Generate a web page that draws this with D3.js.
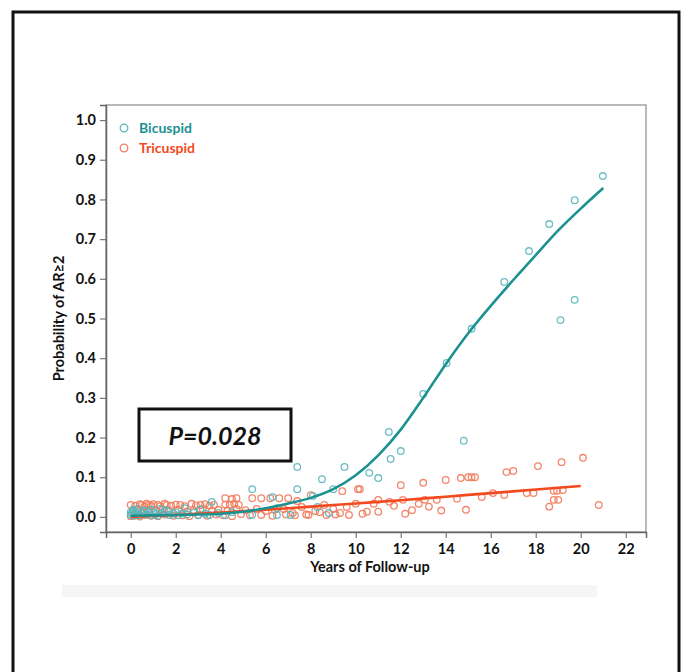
<!DOCTYPE html>
<html>
<head>
<meta charset="utf-8">
<script src="https://cdn.jsdelivr.net/npm/d3@7"></script>
<style>
  body { margin: 0; background: #fff; }
  text { font-family: Lato, "Open Sans", sans-serif; }
</style>
</head>
<body>
<script>
// fitted curves
var bicuspidCurveX = [0, 1, 2, 3, 4, 5, 6, 7, 8, 9, 10, 11, 12, 13, 14, 15, 16, 17, 18, 19, 20, 21];
var bicuspidCurveY = [0.003, 0.004, 0.005, 0.006, 0.008, 0.013, 0.022, 0.034, 0.048, 0.07, 0.105, 0.155, 0.22, 0.3, 0.385, 0.463, 0.532, 0.597, 0.66, 0.722, 0.777, 0.829];
var tricuspidCurveX = [0, 2, 4, 6, 8, 10, 12, 14, 16, 18, 20];
var tricuspidCurveY = [0, 0.005, 0.011, 0.018, 0.026, 0.034, 0.042, 0.051, 0.06, 0.069, 0.078];

// observed points: bicuspid
var bicuspidX = [0, 0, 0.05, 0.1, 0.15, 0.2, 0.25, 0.3, 0.4, 0.5, 0.6, 0.7, 0.8, 0.9, 1.0, 1.1, 1.2, 1.4, 1.5, 1.7, 1.9, 2.0, 2.1, 2.3, 2.5, 2.8, 3.0, 3.1, 3.3, 3.5, 3.6, 3.9, 4.2, 4.5,
  0.1, 0.3, 0.6, 0.9, 1.3, 1.6, 2.4, 5.4, 5.4, 6.3, 6.5, 6.5, 7.1, 7.4, 7.4, 8.1, 8.3, 8.5, 8.8, 9.0, 9.5,
  10.6, 11.0, 11.47, 11.55, 12.0, 13.0, 14.04, 14.8, 15.15, 16.6, 17.7, 18.6, 19.1, 19.73, 19.73, 20.98];
var bicuspidY = [0.005, 0.012, 0.008, 0.015, 0.003, 0.01, 0.006, 0.012, 0.004, 0.009, 0.014, 0.006, 0.01, 0.004, 0.012, 0.007, 0.003, 0.01, 0.015, 0.005, 0.008, 0.012, 0.004, 0.009, 0.006, 0.011, 0.004, 0.018, 0.008, 0.005, 0.038, 0.01, 0.004, 0.012,
  0.018, 0.02, 0.016, 0.018, 0.02, 0.017, 0.022, 0.07, 0.005, 0.05, 0.022, 0.005, 0.005, 0.126, 0.07, 0.053, 0.025, 0.095, 0.01, 0.07, 0.126,
  0.111, 0.098, 0.214, 0.146, 0.166, 0.31, 0.388, 0.192, 0.474, 0.592, 0.67, 0.738, 0.496, 0.798, 0.547, 0.859];

// observed points: tricuspid
var tricuspidX = [0.0, 0.2, 0.4, 0.5, 0.6, 0.7, 0.8, 0.9, 1.0, 1.2, 1.3, 1.5, 1.6, 1.8, 2.0, 2.2, 2.4, 2.7, 2.9, 3.1, 3.3, 3.5, 3.7, 4.2, 4.4, 4.6, 4.8,
  0.1, 0.3, 0.5, 0.8, 1.1, 1.4, 1.7, 2.1, 2.5, 2.8, 3.2, 3.6, 3.9, 4.3, 4.7, 5.1, 5.6, 6.0, 6.4, 6.8, 7.2, 7.6, 8.2, 8.6, 9.0, 9.3, 9.6,
  0.0, 0.2, 0.4, 0.6, 0.9, 1.2, 1.5, 1.9, 2.3, 2.6, 3.0, 3.4, 3.8, 4.1, 4.5, 4.9, 5.3, 5.8, 6.3, 6.9, 7.3, 7.9, 8.7, 9.1,
  4.2, 4.5, 4.7, 5.4, 5.8, 6.2, 6.6, 7.0, 7.4, 7.8, 8.0, 8.4, 9.4, 10.1,
  9.7, 10.0, 10.18, 10.3, 10.5, 10.8, 11.0, 11.0, 11.5, 11.7, 12.0, 12.1, 12.2, 12.5, 12.8, 13.0, 13.07, 13.25, 13.6, 13.8, 14.0, 14.5, 14.67, 14.9,
  15.0, 15.15, 15.3, 15.6, 16.1, 16.6, 16.7, 17.0, 17.6, 17.9, 18.1, 18.6, 18.8, 18.8, 18.95, 19.0, 19.2, 19.15, 20.1, 20.8];
var tricuspidY = [0.03, 0.028, 0.032, 0.03, 0.026, 0.033, 0.03, 0.028, 0.032, 0.03, 0.027, 0.033, 0.03, 0.028, 0.031, 0.03, 0.027, 0.033, 0.029, 0.03, 0.032, 0.028, 0.03, 0.031, 0.03, 0.033, 0.03,
  0.015, 0.018, 0.014, 0.017, 0.015, 0.019, 0.016, 0.018, 0.014, 0.017, 0.02, 0.015, 0.018, 0.016, 0.02, 0.017, 0.02, 0.015, 0.018, 0.02, 0.01, 0.025, 0.015, 0.03, 0.02, 0.01, 0.025,
  0.002, 0.004, 0.001, 0.005, 0.003, 0.002, 0.006, 0.003, 0.004, 0.002, 0.005, 0.003, 0.006, 0.004, 0.002, 0.007, 0.004, 0.005, 0.003, 0.006, 0.004, 0.005, 0.005, 0.006,
  0.047, 0.045, 0.047, 0.047, 0.047, 0.047, 0.047, 0.047, 0.04, 0.006, 0.055, 0.012, 0.065, 0.07,
  0.005, 0.033, 0.07, 0.008, 0.013, 0.033, 0.043, 0.013, 0.038, 0.028, 0.08, 0.043, 0.008, 0.017, 0.033, 0.086, 0.043, 0.026, 0.043, 0.016, 0.093, 0.046, 0.098, 0.018,
  0.1, 0.1, 0.1, 0.05, 0.06, 0.055, 0.113, 0.116, 0.06, 0.06, 0.128, 0.026, 0.043, 0.066, 0.066, 0.043, 0.068, 0.138, 0.149, 0.03];

var xTicks = [0, 2, 4, 6, 8, 10, 12, 14, 16, 18, 20, 22];
var yTicks = [0, 0.1, 0.2, 0.3, 0.4, 0.5, 0.6, 0.7, 0.8, 0.9, 1.0];
var seriesNames = ["Bicuspid", "Tricuspid"];

var W = 682, H = 672;
var margin = {top: 105, right: 36, bottom: 140, left: 106},
    width = W - margin.left - margin.right,
    height = H - margin.top - margin.bottom;

var teal = "#1b9191", tealPt = "#5cb6bd", orange = "#f24a1e", orangePt = "#f2795a";

var svg = d3.select("body").append("svg")
  .attr("width", W)
  .attr("height", H);

// outer frame
svg.append("rect")
  .attr("x", 13).attr("y", 12)
  .attr("width", 666).attr("height", 720)
  .attr("fill", "none").attr("stroke", "#111").attr("stroke-width", 3);

// faint band under the chart
svg.append("rect")
  .attr("x", 62).attr("y", 585)
  .attr("width", 535).attr("height", 12)
  .attr("fill", "#f5f5f5");

var g = svg.append("g")
  .attr("transform", "translate(" + margin.left + "," + margin.top + ")");

var x = d3.scaleLinear().domain([-1.1, 22.9]).range([0, width]);
var y = d3.scaleLinear().domain([-0.038, 1.038]).range([height, 0]);

// plot box
g.append("rect")
  .attr("width", width).attr("height", height)
  .attr("fill", "none").attr("stroke", "#8a8a8a").attr("stroke-width", 1.2);

// axes
var xAxis = g.append("g")
  .attr("transform", "translate(0," + height + ")")
  .call(d3.axisBottom(x).tickValues(xTicks).tickSize(6).tickPadding(6).tickFormat(d3.format("d")));
var yAxis = g.append("g")
  .call(d3.axisLeft(y).tickValues(yTicks).tickSize(6).tickPadding(4).tickFormat(d3.format(".1f")));

[xAxis, yAxis].forEach(function(a) {
  a.select(".domain").attr("stroke", "#666").attr("stroke-width", 1.5);
  a.selectAll(".tick line").attr("stroke", "#777").attr("stroke-width", 1.2);
  a.selectAll(".tick text")
    .attr("fill", "#111")
    .style("font-family", "Lato, 'Open Sans', sans-serif")
    .style("font-size", "14.5px")
    .style("font-weight", "bold");
});

// axis titles
svg.append("text")
  .attr("x", 370).attr("y", 572)
  .attr("text-anchor", "middle")
  .style("font-size", "14.5px").style("font-weight", "bold").attr("fill", "#111")
  .text("Years of Follow-up");

svg.append("text")
  .attr("transform", "translate(64," + (margin.top + height / 2) + ") rotate(-90)")
  .attr("text-anchor", "middle")
  .style("font-size", "14.5px").style("font-weight", "bold").attr("fill", "#111")
  .text("Probability of AR≥2");

// scatter points (tricuspid first, bicuspid on top)
function drawPoints(xs, ys, color) {
  g.append("g").selectAll("circle")
    .data(xs.map(function(v, i) { return [v, ys[i]]; }))
    .enter().append("circle")
    .attr("cx", d => x(d[0]))
    .attr("cy", d => y(d[1]))
    .attr("r", 3.3)
    .attr("fill", "none")
    .attr("stroke", color)
    .attr("stroke-width", 1.3)
    .attr("opacity", 0.9);
}
drawPoints(tricuspidX, tricuspidY, orangePt);
drawPoints(bicuspidX, bicuspidY, tealPt);

// fitted lines
var line = d3.line()
  .x(d => x(d[0]))
  .y(d => y(d[1]))
  .curve(d3.curveMonotoneX);

g.append("path")
  .datum(tricuspidCurveX.map((v, i) => [v, tricuspidCurveY[i]]))
  .attr("d", line)
  .attr("fill", "none").attr("stroke", orange).attr("stroke-width", 2.6);

g.append("path")
  .datum(bicuspidCurveX.map((v, i) => [v, bicuspidCurveY[i]]))
  .attr("d", line)
  .attr("fill", "none").attr("stroke", teal).attr("stroke-width", 2.6);

// legend
var legend = svg.append("g").attr("transform", "translate(124,128)");
seriesNames.forEach(function(name, i) {
  var row = legend.append("g").attr("transform", "translate(0," + (i * 20) + ")");
  row.append("circle")
    .attr("r", 3.8)
    .attr("fill", "none")
    .attr("stroke", i == 0 ? tealPt : orangePt)
    .attr("stroke-width", 1.3);
  row.append("text")
    .attr("x", 15).attr("y", 5)
    .style("font-size", "14px").style("font-weight", "bold")
    .attr("fill", i == 0 ? teal : orange)
    .text(name);
});

// P value box
svg.append("rect")
  .attr("x", 139).attr("y", 409)
  .attr("width", 152).attr("height", 52)
  .attr("fill", "#fff").attr("stroke", "#111").attr("stroke-width", 3);
svg.append("text")
  .attr("x", 215).attr("y", 445)
  .attr("text-anchor", "middle")
  .style("font-size", "25px").style("font-weight", "bold").style("font-style", "italic")
  .attr("fill", "#111")
  .text("P=0.028");
</script>
</body>
</html>
